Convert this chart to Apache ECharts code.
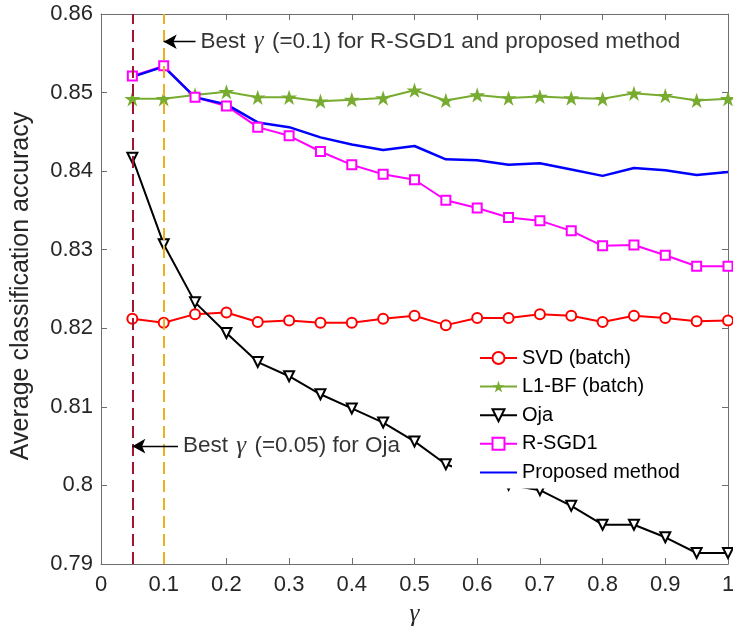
<!DOCTYPE html>
<html>
<head>
<meta charset="utf-8">
<script src="https://cdn.jsdelivr.net/npm/echarts@6/dist/echarts.min.js"></script>
<style>
  html, body { margin: 0; padding: 0; background: #fff; }
  #chart { width: 733px; height: 628px; }
</style>
</head>
<body>
<div id="chart"></div>
<script>
// Step size gamma and the average classification accuracy of each method
const gamma = [0.05, 0.10, 0.15, 0.20, 0.25, 0.30, 0.35, 0.40, 0.45, 0.50,
               0.55, 0.60, 0.65, 0.70, 0.75, 0.80, 0.85, 0.90, 0.95, 1.00];

const svdBatch = [0.8212, 0.8207, 0.8218, 0.8220, 0.8208, 0.8210, 0.8207, 0.8207, 0.8212, 0.8216,
                  0.8204, 0.8213, 0.8213, 0.8218, 0.8216, 0.8208, 0.8216, 0.8213, 0.8209, 0.8210];

const l1bfBatch = [0.8492, 0.8492, 0.8497, 0.8501, 0.8494, 0.8494, 0.8489, 0.8491, 0.8493, 0.8503,
                   0.8490, 0.8497, 0.8493, 0.8495, 0.8493, 0.8492, 0.8499, 0.8496, 0.8490, 0.8492];

const oja = [0.8417, 0.8307, 0.8233, 0.8194, 0.8157, 0.8139, 0.8116, 0.8098, 0.8080, 0.8056,
             0.8027, 0.8013, 0.8001, 0.7994, 0.7974, 0.7950, 0.7950, 0.7934, 0.7914, 0.7914];

const rsgd1 = [0.8521, 0.8534, 0.8494, 0.8483, 0.8456, 0.8445, 0.8425, 0.8408, 0.8396, 0.8389,
               0.8363, 0.8353, 0.8341, 0.8337, 0.8324, 0.8305, 0.8306, 0.8293, 0.8279, 0.8279];

const proposed = [0.8520, 0.8533, 0.8494, 0.8485, 0.8462, 0.8456, 0.8443, 0.8434, 0.8427, 0.8432,
                  0.8415, 0.8414, 0.8408, 0.8410, 0.8402, 0.8394, 0.8404, 0.8401, 0.8395, 0.8399];

const seriesNames = ['SVD (batch)', 'L1-BF (batch)', 'Oja', 'R-SGD1', 'Proposed method'];

// Best step sizes marked with dashed vertical lines
const bestGammaOja = 0.05;
const bestGammaRSGD = 0.1;

const pair = vals => gamma.map((g, i) => [g, vals[i]]);

const FONT = '"Liberation Sans", Arial, Helvetica, sans-serif';
const SERIF = '"Liberation Serif", "DejaVu Serif", serif';
const AXIS_COLOR = '#6e6e6e';
const TEXT_COLOR = '#262626';

// five-pointed star marker
const STAR = 'path://M50,0 L61.23,34.55 L97.55,34.55 L68.16,55.9 L79.39,90.45 L50,69.1 L20.61,90.45 L31.84,55.9 L2.45,34.55 L38.77,34.55 Z';

const gammaRich = {
  g: { fontFamily: SERIF, fontStyle: 'italic', fontSize: 25, color: '#000', padding: [0, 2, 0, 2] }
};

// arrow + text annotation, tip points at the dashed line
function annotation(tipX, tailX, y, text) {
  return {
    type: 'scatter',
    silent: true,
    z: 6,
    symbolSize: 0.1,
    itemStyle: { color: 'transparent' },
    data: [[tailX, y]],
    label: {
      show: true,
      position: 'right',
      distance: 5,
      formatter: () => text,
      fontFamily: FONT,
      fontSize: 22.5,
      color: '#000',
      rich: gammaRich
    },
    markLine: {
      silent: true,
      animation: false,
      label: { show: false },
      lineStyle: { color: '#000', width: 1.3, type: 'solid' },
      data: [[
        { coord: [tailX, y], symbol: 'none' },
        { coord: [tipX, y], symbol: 'arrow', symbolSize: [11, 13] }
      ]]
    }
  };
}

const axisCommon = {
  axisLine: { show: true, onZero: false, lineStyle: { color: AXIS_COLOR, width: 1 } },
  axisTick: { show: true, inside: true, length: 6, lineStyle: { color: AXIS_COLOR, width: 1 } },
  splitLine: { show: false }
};

const option = {
  animation: false,
  backgroundColor: '#fff',
  grid: { left: 101, right: 5, top: 14, bottom: 64, containLabel: false, outerBoundsMode: 'none' },
  xAxis: [
    Object.assign({
      type: 'value', min: 0, max: 1, interval: 0.1, position: 'bottom',
      axisLabel: {
        fontFamily: FONT, fontSize: 22, color: TEXT_COLOR, margin: 10,
        formatter: v => String(+v.toFixed(1))
      },
      name: 'γ', nameLocation: 'middle', nameGap: 38,
      nameTextStyle: { fontFamily: SERIF, fontStyle: 'italic', fontSize: 25, color: TEXT_COLOR }
    }, axisCommon),
    Object.assign({
      type: 'value', min: 0, max: 1, interval: 0.1, position: 'top',
      axisLabel: { show: false }
    }, axisCommon)
  ],
  yAxis: [
    Object.assign({
      type: 'value', min: 0.79, max: 0.86, interval: 0.01, position: 'left',
      axisLabel: {
        fontFamily: FONT, fontSize: 22, color: TEXT_COLOR, margin: 8,
        formatter: v => String(+v.toFixed(2))
      },
      name: 'Average classification accuracy', nameLocation: 'middle', nameGap: 67,
      nameTextStyle: { fontFamily: FONT, fontSize: 25, color: TEXT_COLOR, padding: [0, 0, 0, 6] }
    }, axisCommon),
    Object.assign({
      type: 'value', min: 0.79, max: 0.86, interval: 0.01, position: 'right',
      axisLabel: { show: false }
    }, axisCommon)
  ],
  legend: {
    data: [
      { name: seriesNames[0] },
      { name: seriesNames[1] },
      { name: seriesNames[2] },
      { name: seriesNames[3] },
      { name: seriesNames[4], itemStyle: { opacity: 0 } }
    ],
    orient: 'vertical',
    left: 452,
    top: 338,
    itemWidth: 37,
    itemHeight: 15,
    itemGap: 8.6,
    padding: [10, 14, 6, 27],
    backgroundColor: '#fff',
    borderWidth: 0,
    selectedMode: false,
    z: 10,
    textStyle: { fontFamily: FONT, fontSize: 20, color: '#000', lineHeight: 20 }
  },
  series: [
    {
      name: seriesNames[0], type: 'line', data: pair(svdBatch),
      symbol: 'emptyCircle', symbolSize: 10,
      lineStyle: { color: '#ff0000', width: 2 },
      itemStyle: { color: '#ff0000', borderWidth: 1.6 }
    },
    {
      name: seriesNames[1], type: 'line', data: pair(l1bfBatch),
      symbol: STAR, symbolSize: 16, symbolKeepAspect: true,
      lineStyle: { color: '#77ac30', width: 2 },
      itemStyle: { color: '#77ac30' }
    },
    {
      name: seriesNames[2], type: 'line', data: pair(oja),
      symbol: 'emptyTriangle', symbolSize: 10, symbolRotate: 180,
      lineStyle: { color: '#000', width: 2 },
      itemStyle: { color: '#000', borderWidth: 1.6 }
    },
    {
      name: seriesNames[3], type: 'line', data: pair(rsgd1),
      symbol: 'emptyRect', symbolSize: 9,
      lineStyle: { color: '#ff00ff', width: 2 },
      itemStyle: { color: '#ff00ff', borderWidth: 1.6 }
    },
    {
      name: seriesNames[4], type: 'line', data: pair(proposed),
      symbol: 'none',
      lineStyle: { color: '#0000ff', width: 2.5 },
      itemStyle: { color: '#0000ff' }
    },
    {
      // dashed markers of the best step sizes
      type: 'line', data: [], z: 5, silent: true,
      markLine: {
        silent: true, animation: false, symbol: 'none',
        label: { show: false },
        data: [
          { xAxis: bestGammaOja, lineStyle: { color: '#a2142f', width: 2, type: [12, 6] } },
          { xAxis: bestGammaRSGD, lineStyle: { color: '#edb120', width: 2, type: [12, 6] } }
        ]
      }
    },
    annotation(bestGammaRSGD, 0.1507, 0.85647,
      `Best {g|γ} (=${bestGammaRSGD}) for R-SGD1 and proposed method`),
    annotation(bestGammaOja, 0.1228, 0.8050,
      `Best {g|γ} (=${bestGammaOja}) for Oja`)
  ]
};

const chart = echarts.init(document.getElementById('chart'), null, { renderer: 'canvas' });
chart.setOption(option);
</script>
</body>
</html>
